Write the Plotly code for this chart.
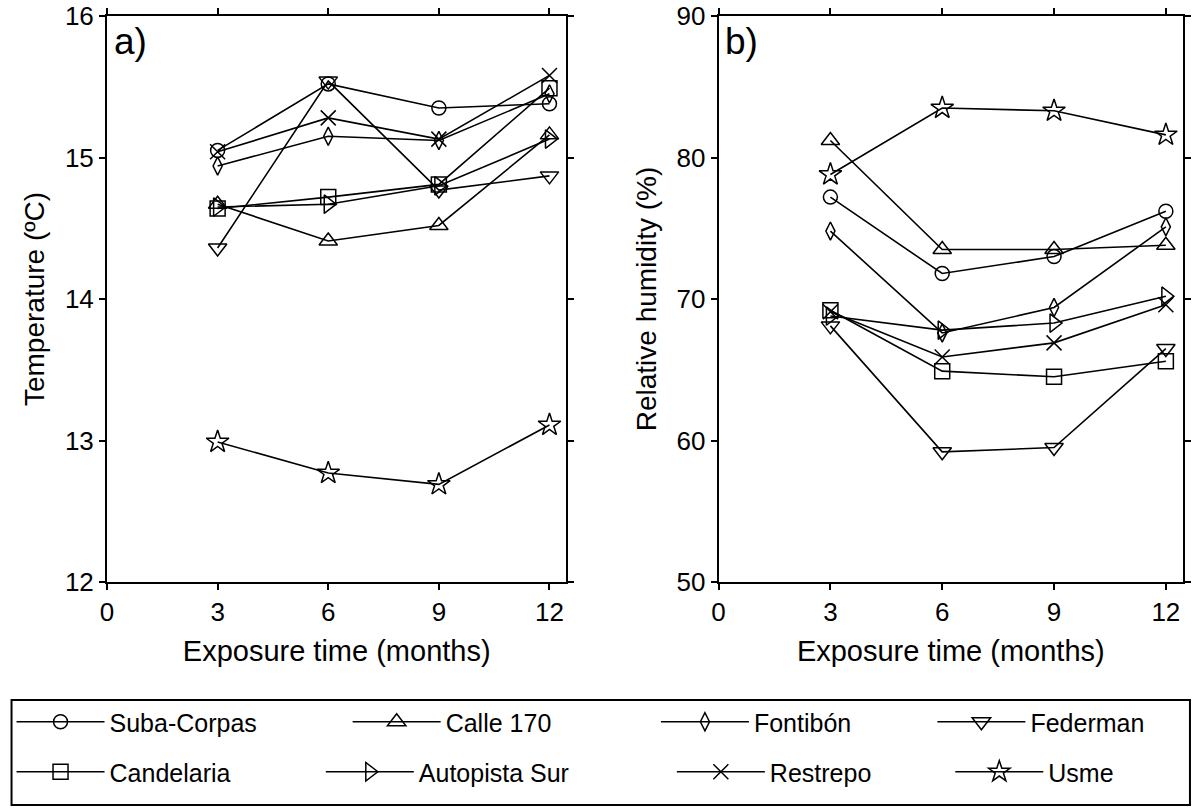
import plotly.graph_objects as go

months = [3, 6, 9, 12]
stations = ["Suba-Corpas", "Calle 170", "Fontibón", "Federman",
            "Candelaria", "Autopista Sur", "Restrepo", "Usme"]

temp_suba = [15.05, 15.52, 15.35, 15.38]
temp_calle = [14.67, 14.41, 14.52, 15.16]
temp_fontibon = [14.94, 15.15, 15.12, 15.45]
temp_federman = [14.36, 15.54, 14.77, 14.87]
temp_candelaria = [14.64, 14.72, 14.81, 15.49]
temp_autopista = [14.65, 14.67, 14.80, 15.13]
temp_restrepo = [15.04, 15.28, 15.13, 15.58]
temp_usme = [12.99, 12.77, 12.69, 13.11]

rh_suba = [77.2, 71.8, 73.0, 76.2]
rh_calle = [81.2, 73.5, 73.5, 73.8]
rh_fontibon = [74.8, 67.6, 69.4, 75.1]
rh_federman = [68.1, 59.2, 59.5, 66.5]
rh_candelaria = [69.2, 64.9, 64.5, 65.6]
rh_autopista = [68.8, 67.8, 68.3, 70.2]
rh_restrepo = [69.1, 65.9, 66.9, 69.6]
rh_usme = [78.8, 83.5, 83.3, 81.6]

temps = [temp_suba, temp_calle, temp_fontibon, temp_federman,
         temp_candelaria, temp_autopista, temp_restrepo, temp_usme]
rhs = [rh_suba, rh_calle, rh_fontibon, rh_federman,
       rh_candelaria, rh_autopista, rh_restrepo, rh_usme]
symbols = ["circle-open", "triangle-up-open", "diamond-tall-open", "triangle-down-open",
           "square-open", "triangle-right-open", "x-thin-open", "star-open"]
sizes = [14, 16, 13, 16, 15, 16, 15, 17]

# legend entry positions (px): line start x, row centre y
leg_x = [5, 343, 653, 931, 5, 316, 669, 949]
leg_y = [722, 722, 722, 722, 772, 772, 772, 772]

W, H = 1196, 809
FONT = "Liberation Sans, Arial, sans-serif"
ML, MR, MT, MB = 101, 13, 16, 227
PW = W - ML - MR
PH = H - MT - MB

fig = go.Figure()
for i, name in enumerate(stations):
    lg = "legend" if i == 0 else "legend%d" % (i + 1)
    for ax, data, show in (("", temps[i], True), ("2", rhs[i], False)):
        fig.add_trace(go.Scatter(
            x=months, y=data, name=name, showlegend=show, legend=lg,
            mode="lines+markers", xaxis="x" + ax, yaxis="y" + ax,
            line=dict(color="black", width=1.6),
            marker=dict(symbol=symbols[i], size=sizes[i], color="black",
                        line=dict(color="black", width=1.5)),
        ))

axis_common = dict(showline=True, linecolor="black", linewidth=2, mirror="ticks",
                   ticks="outside", ticklen=6, tickwidth=1.5, tickcolor="black",
                   showgrid=False, zeroline=False, automargin=False,
                   ticklabeloverflow="allow",
                   tickfont=dict(family=FONT, size=26, color="black"))

layout = dict(
    width=W, height=H,
    margin=dict(l=ML, r=MR, t=MT, b=MB),
    paper_bgcolor="white", plot_bgcolor="white",
    font=dict(family=FONT, color="black"),
    xaxis=dict(domain=[0, (563 - ML) / PW], range=[0, 12.46], tickvals=[0, 3, 6, 9, 12],
               title=dict(text="Exposure time (months)", font=dict(size=29), standoff=14),
               anchor="y", **axis_common),
    yaxis=dict(range=[12, 16], tickvals=[12, 13, 14, 15, 16],
               title=dict(text="Temperature (ºC)", font=dict(size=28), standoff=12),
               anchor="x", **axis_common),
    xaxis2=dict(domain=[(716 - ML) / PW, 1], range=[0, 12.46], tickvals=[0, 3, 6, 9, 12],
                title=dict(text="Exposure time (months)", font=dict(size=29), standoff=14),
                anchor="y2", **axis_common),
    yaxis2=dict(range=[50, 90], tickvals=[50, 60, 70, 80, 90],
                title=dict(text="Relative humidity (%)", font=dict(size=28), standoff=12),
                anchor="x2", **axis_common),
    shapes=[dict(type="rect", xref="paper", yref="paper",
                 x0=(5 - ML) / PW, x1=(1190 - ML) / PW,
                 y0=-(805 - (H - MB)) / PH, y1=-(700 - (H - MB)) / PH,
                 line=dict(color="black", width=2), fillcolor="rgba(0,0,0,0)")],
    annotations=[
        dict(text="a)", x=0.01, y=0.995, xref="x domain", yref="y domain",
             xanchor="left", yanchor="top", showarrow=False, font=dict(size=37)),
        dict(text="b)", x=0.01, y=0.995, xref="x2 domain", yref="y2 domain",
             xanchor="left", yanchor="top", showarrow=False, font=dict(size=37)),
    ],
)

for i in range(8):
    key = "legend" if i == 0 else "legend%d" % (i + 1)
    layout[key] = dict(
        x=(leg_x[i] - ML) / PW, y=((H - MB) - leg_y[i]) / PH,
        xanchor="left", yanchor="middle", orientation="h",
        bgcolor="rgba(0,0,0,0)", borderwidth=0, itemwidth=88,
        font=dict(family=FONT, size=25, color="black"))

fig.update_layout(**layout)
fig.write_html("out.html", config={"displayModeBar": False},
               post_script="document.body.style.margin='0px';")
